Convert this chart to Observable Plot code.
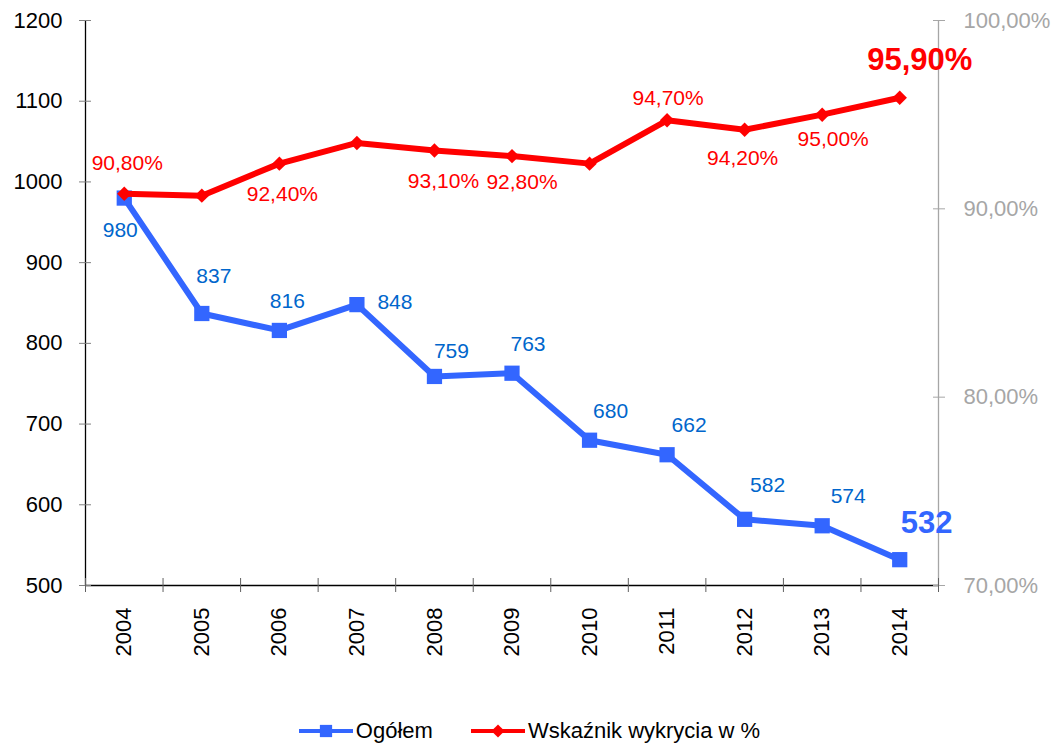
<!DOCTYPE html>
<html>
<head>
<meta charset="utf-8">
<script src="https://cdn.jsdelivr.net/npm/d3@7"></script>
<script src="https://cdn.jsdelivr.net/npm/@observablehq/plot@0.6"></script>
<style>
  html, body { margin: 0; padding: 0; background: #fff; }
  body { width: 1059px; height: 745px; overflow: hidden; font-family: "Liberation Sans", Arial, sans-serif; }
  #legend { display: flex; justify-content: center; align-items: center; height: 52px; font-size: 22px; color: #000; }
  .item { display: flex; align-items: center; }
  .item svg { margin-right: 3px; }
</style>
</head>
<body>
<div id="chart"></div>
<div id="legend"></div>
<script>
// ---- data ----
const years = [2004, 2005, 2006, 2007, 2008, 2009, 2010, 2011, 2012, 2013, 2014];
const totals = [980, 837, 816, 848, 759, 763, 680, 662, 582, 574, 532];
const detection = [90.8, 90.7, 92.4, 93.5, 93.1, 92.8, 92.4, 94.7, 94.2, 95.0, 95.9];
const detectionLabelled = [true, false, true, false, true, true, false, true, true, true, true];
const leftTicks = [500, 600, 700, 800, 900, 1000, 1100, 1200];
const rightTicks = [70, 80, 90, 100];
const seriesNames = ["Ogółem", "Wskaźnik wykrycia w %"];

// ---- styling / layout ----
const BLUE = "#3366FF", BLUE_TXT = "#0066CC", RED = "#FF0000", GREY = "#A6A6A6";
const FONT = "Liberation Sans, Arial, sans-serif";
const totalOffsets = [[-4,32],[12,-37],[8,-29],[38,-2],[17,-25],[16,-29],[21,-29],[22,-29],[23,-34],[26,-30],[27,-37]];
const detOffsets = [[3,-31],null,[3,31],null,[9,31],[10,26],null,[1,-22],[-2,29],[11,25],[20,-38]];

const yDom = [d3.min(leftTicks), d3.max(leftTicks)];
const pDom = [d3.min(rightTicks), d3.max(rightTicks)];
const toLeft = p => yDom[0] + (p - pDom[0]) / (pDom[1] - pDom[0]) * (yDom[1] - yDom[0]);
const fromLeft = v => pDom[0] + (v - yDom[0]) / (yDom[1] - yDom[0]) * (pDom[1] - pDom[0]);
const fmtPct = p => p.toFixed(2).replace(".", ",") + "%";

const data = years.map((y, i) => ({year: y, total: totals[i], det: detection[i], detL: toLeft(detection[i]), i}));
const bounds = years.map(y => y - 0.5).concat([years[years.length - 1] + 0.5]);
const xDom = [bounds[0], bounds[bounds.length - 1]];
const last = data.length - 1;

const totalLabels = data.map(d => {
  const [dx, dy] = totalOffsets[d.i];
  const bold = d.i === last;
  return Plot.text([d], {x: "year", y: "total", text: d => String(d.total), dx, dy,
    fill: bold ? BLUE : BLUE_TXT, fontSize: bold ? 31 : 21, fontWeight: bold ? "bold" : "normal"});
});
const detLabels = data.filter(d => detectionLabelled[d.i]).map(d => {
  const [dx, dy] = detOffsets[d.i];
  const bold = d.i === last;
  return Plot.text([d], {x: "year", y: "detL", text: d => fmtPct(d.det), dx, dy,
    fill: RED, fontSize: bold ? 31 : 21, fontWeight: bold ? "bold" : "normal"});
});

const chart = Plot.plot({
  width: 1059,
  height: 705,
  marginLeft: 85,
  marginRight: 121,
  marginTop: 20,
  marginBottom: 120,
  style: {fontFamily: FONT, background: "#fff", overflow: "visible"},
  x: {type: "linear", domain: xDom, label: null},
  y: {type: "linear", domain: yDom, label: null},
  marks: [
    // axis lines
    Plot.ruleX([xDom[1]], {stroke: GREY, strokeWidth: 1.3}),
    Plot.ruleX([xDom[0]], {stroke: "#000", strokeWidth: 1.3}),
    Plot.ruleY([yDom[0]], {stroke: "#000", strokeWidth: 1.3}),
    // left axis
    Plot.axisY(leftTicks, {anchor: "left", label: null, tickSize: 6, tickPadding: 17, fontSize: 22, fill: "#000", stroke: "#808080",
      tickFormat: d => String(d)}),
    Plot.axisY(leftTicks, {anchor: "left", label: null, tickSize: 6, dx: 6, tickFormat: () => "", stroke: "#808080"}),
    // right axis
    Plot.axisY(rightTicks.map(toLeft), {anchor: "right", label: null, tickSize: 6, tickPadding: 19, fontSize: 22, fill: GREY, stroke: GREY,
      tickFormat: v => fmtPct(fromLeft(v))}),
    Plot.axisY(rightTicks.map(toLeft), {anchor: "right", label: null, tickSize: 6, dx: -6, tickFormat: () => "", stroke: GREY}),
    // x axis
    Plot.axisX(bounds, {anchor: "bottom", label: null, tickSize: 7, tickFormat: () => "", stroke: "#606060"}),
    Plot.axisX(bounds, {anchor: "bottom", label: null, tickSize: 7, dy: -7, tickFormat: () => "", stroke: "#606060"}),
    Plot.axisX(years, {anchor: "bottom", label: null, tickSize: 0, tickPadding: 22, tickRotate: -90, fontSize: 22, fill: "#000",
      tickFormat: d => String(d)}),
    // series
    Plot.line(data, {x: "year", y: "total", stroke: BLUE, strokeWidth: 6}),
    Plot.dot(data, {x: "year", y: "total", symbol: "square", r: 8.6, fill: BLUE}),
    Plot.line(data, {x: "year", y: "detL", stroke: RED, strokeWidth: 6}),
    Plot.dot(data, {x: "year", y: "detL", symbol: "diamond2", r: 6.5, fill: RED}),
    ...totalLabels,
    ...detLabels
  ]
});
document.getElementById("chart").appendChild(chart);

// legend
const legend = d3.select("#legend");
const items = [
  {name: seriesNames[0], color: BLUE, sym: d3.symbolSquare, size: 150},
  {name: seriesNames[1], color: RED, sym: d3.symbolDiamond2, size: 110}
];
items.forEach((it, k) => {
  const div = legend.append("div").attr("class", "item").style("margin-left", k ? "38px" : "0");
  const s = div.append("svg").attr("width", 54).attr("height", 20);
  s.append("line").attr("x1", 0).attr("x2", 54).attr("y1", 10).attr("y2", 10).attr("stroke", it.color).attr("stroke-width", 4);
  s.append("path").attr("d", d3.symbol(it.sym, it.size)()).attr("transform", "translate(27,10)").attr("fill", it.color);
  div.append("span").text(it.name);
});
</script>
</body>
</html>
